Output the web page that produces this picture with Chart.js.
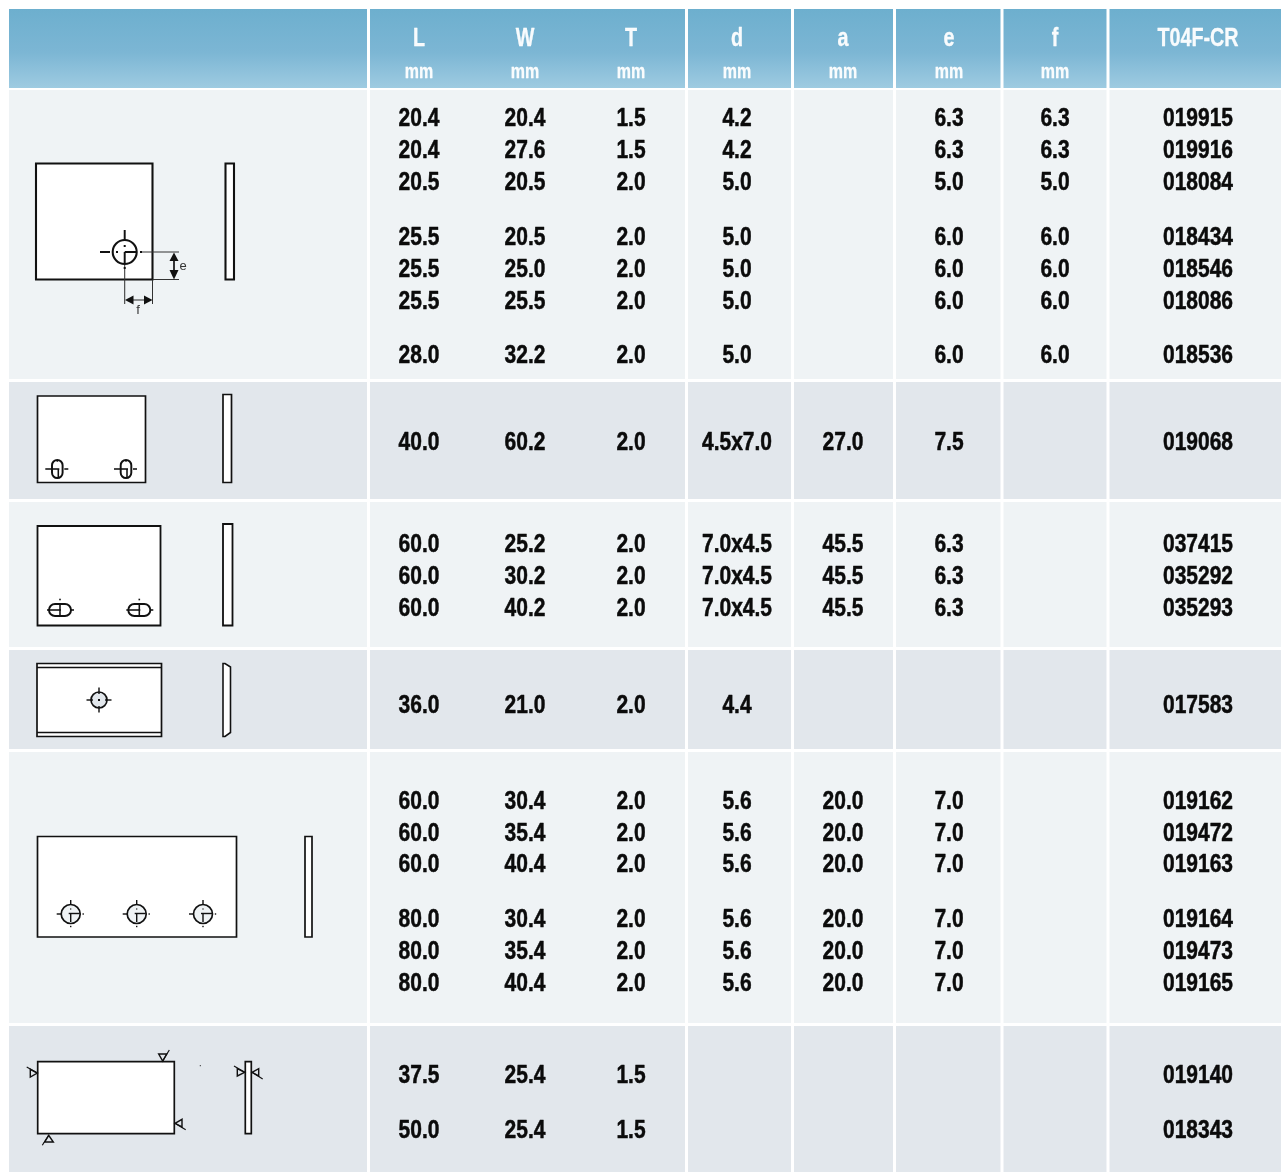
<!DOCTYPE html>
<html>
<head>
<meta charset="utf-8">
<title>T04F-CR</title>
<script src="https://cdn.jsdelivr.net/npm/chart.js@4"></script>
<style>
  html, body { margin:0; padding:0; background:#fff; }
  canvas { display:block; }
</style>
</head>
<body>
<canvas id="table" width="1281" height="1173"></canvas>
<script>
// table content
const headers = ['L','W','T','d','a','e','f','T04F-CR'];
const units   = ['mm','mm','mm','mm','mm','mm','mm',''];

const valL = ['20.4','20.4','20.5','25.5','25.5','25.5','28.0','40.0','60.0','60.0','60.0','36.0','60.0','60.0','60.0','80.0','80.0','80.0','37.5','50.0'];
const valW = ['20.4','27.6','20.5','20.5','25.0','25.5','32.2','60.2','25.2','30.2','40.2','21.0','30.4','35.4','40.4','30.4','35.4','40.4','25.4','25.4'];
const valT = ['1.5','1.5','2.0','2.0','2.0','2.0','2.0','2.0','2.0','2.0','2.0','2.0','2.0','2.0','2.0','2.0','2.0','2.0','1.5','1.5'];
const valD = ['4.2','4.2','5.0','5.0','5.0','5.0','5.0','4.5x7.0','7.0x4.5','7.0x4.5','7.0x4.5','4.4','5.6','5.6','5.6','5.6','5.6','5.6','',''];
const valA = ['','','','','','','','27.0','45.5','45.5','45.5','','20.0','20.0','20.0','20.0','20.0','20.0','',''];
const valE = ['6.3','6.3','5.0','6.0','6.0','6.0','6.0','7.5','6.3','6.3','6.3','','7.0','7.0','7.0','7.0','7.0','7.0','',''];
const valF = ['6.3','6.3','5.0','6.0','6.0','6.0','6.0','','','','','','','','','','','','',''];
const codes = ['019915','019916','018084','018434','018546','018086','018536','019068','037415','035292','035293','017583','019162','019472','019163','019164','019473','019165','019140','018343'];
const columns = [valL, valW, valT, valD, valA, valE, valF, codes];

// layout, in page pixels (the scales run 0-1281 / 0-1173)
const colX = [419,525,631,737,843,949,1055,1198];
const rowY = [117,149,181,236,268,300,354,441,543,575,607,704,800,832,863,918,950,982,1074,1129];
const bandTop = [90,382,502,650,752,1026];
const bandBottom = [379,499,647,749,1023,1172];
const bandFill = ['#eff3f5','#e2e7ec','#eff3f5','#e2e7ec','#eff3f5','#e2e7ec'];
const separators = [368.5,686.5,792.5,894.5,1002,1108];

const FONT = '"Liberation Sans",Arial,sans-serif';
const NARROW = 0.84;   // the original face is condensed, squeeze the bold sans to fit
const LW = 1.3;        // line weight of the sketches

// === helpers around the scales
function drawer(chart){
  const c = chart.ctx, sx = chart.scales.x, sy = chart.scales.y;
  const X = v => sx.getPixelForValue(v), Y = v => sy.getPixelForValue(v);
  return {
    c, X, Y,
    box(x0,y0,x1,y1,fill,w){
      c.beginPath(); c.rect(X(x0),Y(y0),X(x1)-X(x0),Y(y1)-Y(y0));
      if(fill){ c.fillStyle = fill; c.fill(); }
      c.lineWidth = (w || 1.5)*LW; c.strokeStyle = '#111'; c.stroke();
    },
    line(pts,w,col){
      c.beginPath();
      pts.forEach((p,i)=> i ? c.lineTo(X(p[0]),Y(p[1])) : c.moveTo(X(p[0]),Y(p[1])));
      c.lineWidth = (w || 1)*LW; c.strokeStyle = col || '#111'; c.stroke();
    },
    poly(pts,fill,w){
      c.beginPath();
      pts.forEach((p,i)=> i ? c.lineTo(X(p[0]),Y(p[1])) : c.moveTo(X(p[0]),Y(p[1])));
      c.closePath();
      if(fill){ c.fillStyle = fill; c.fill(); }
      if(w){ c.lineWidth = w*LW; c.strokeStyle = '#111'; c.stroke(); }
    },
    ring(x,y,r,fill,w){
      c.beginPath(); c.arc(X(x),Y(y),r,0,Math.PI*2);
      if(fill){ c.fillStyle = fill; c.fill(); }
      c.lineWidth = (w || 1.5)*LW; c.strokeStyle = '#111'; c.stroke();
    },
    dot(x,y,s){ c.fillStyle = '#111'; c.fillRect(X(x)-s/2,Y(y)-s/2,s,s); },
    label(t,x,y,size){
      c.fillStyle = '#333'; c.font = size+'px '+FONT;
      c.textAlign = 'center'; c.textBaseline = 'middle'; c.fillText(t,X(x),Y(y));
    }
  };
}

// vertical or horizontal slot outline
function slot(d,x,y,w,h,fill){
  const c = d.c, r = Math.min(w,h)/2;
  c.beginPath(); c.roundRect(d.X(x-w/2),d.Y(y-h/2),w,h,r);
  c.fillStyle = fill; c.fill();
  c.lineWidth = 1.5*LW; c.strokeStyle = '#111'; c.stroke();
}

function weld(d,tri,tail){
  d.poly(tri,'#e2e7ec',1.1);
  d.line(tail,0.9);
}

// squeezed text, centred on x
function narrowText(c,t,x,y,k){
  c.save();
  c.translate(x,y);
  c.scale(k,1);
  c.fillText(t,0,0);
  c.strokeText(t,0,0);
  c.restore();
}

// === backgrounds, header band, separators
const backgroundPlugin = {
  id:'background',
  beforeDatasetsDraw(chart){
    const d = drawer(chart), c = d.c;
    const g = c.createLinearGradient(0,d.Y(9),0,d.Y(88));
    g.addColorStop(0,'#6dafce'); g.addColorStop(0.55,'#7cb6d4'); g.addColorStop(1,'#9ecbe1');
    c.fillStyle = g;
    c.fillRect(d.X(9),d.Y(9),d.X(1281)-d.X(9),d.Y(88)-d.Y(9));
    bandTop.forEach((t,i)=>{
      c.fillStyle = bandFill[i];
      c.fillRect(d.X(9),d.Y(t),d.X(1281)-d.X(9),d.Y(bandBottom[i])-d.Y(t));
    });
    c.fillStyle = '#fff';
    separators.forEach(x=> c.fillRect(d.X(x)-1.5,d.Y(9),3,d.Y(1173)-d.Y(9)));
  }
};

// === part sketches in the first column
const sketchPlugin = {
  id:'sketches',
  afterDatasetsDraw(chart){
    const d = drawer(chart);

    // square plate with e / f dimensions
    d.box(36,163.5,152.5,279.5,'#fff',1.6);
    d.box(225.5,163.5,234,279.5,'#fff',1.6);
    d.line([[141,252],[179,252]],0.8,'#333');
    d.line([[152.5,279.5],[179,279.5]],0.8,'#333');
    d.line([[124.7,265],[124.7,304]],0.8,'#333');
    d.line([[152.5,280],[152.5,304]],0.8,'#333');
    d.ring(124.7,252,12,null,1.6);
    d.line([[100,252],[110,252]],1.5);
    d.line([[124.7,230],[124.7,240]],1.5);
    d.line([[124.7,252],[137,252]],1.5);
    d.line([[124.7,252],[124.7,264]],1.5);
    d.dot(124.7,246,2); d.dot(117,252,2);
    d.dot(141,252,2); d.dot(124.7,268,2);
    d.line([[174,258],[174,274]],1.3);
    d.poly([[174,252.5],[169.5,261],[178.5,261]],'#111');
    d.poly([[174,279.5],[169.5,270],[178.5,270]],'#111');
    d.line([[130,300],[148,300]],0.8,'#333');
    d.poly([[125,300],[133.5,295.5],[133.5,304.5]],'#111');
    d.poly([[152.5,300],[144,295.5],[144,304.5]],'#111');
    d.label('e',183,266,13);
    d.label('f',138,310,13);

    // two vertical slots
    d.box(37.5,396,145.5,482.5,'#fff',1.3);
    d.box(223,394.5,231.5,482.5,'#fff',1.3);
    [57.3,126].forEach(x=>{
      slot(d,x,469,10.6,18,'#fff');
      d.line([[x-12,469],[x+2,469]],1.2);
      d.line([[x+1,469],[x+1,477]],1.2);
      d.line([[x+7,469],[x+11,469]],1.2);
      d.dot(x,461,1.5);
    });

    // two horizontal slots
    d.box(37.5,526,160.5,625.5,'#fff',1.4);
    d.box(223,524,232.5,625.5,'#fff',1.4);
    [60,139.3].forEach(x=>{
      slot(d,x,610,22,12,'#fff');
      d.line([[x-13,610],[x+1,610]],1.2);
      d.line([[x,605],[x,616]],1.2);
      d.line([[x+11,610],[x+14,610]],1.2);
      d.dot(x,599.5,1.6);
    });

    // chamfered plate with centre hole
    d.box(37,663.5,161.5,736.5,'#fff',1.3);
    d.line([[37,667.5],[161.5,667.5]],1);
    d.line([[37,732.5],[161.5,732.5]],1);
    d.poly([[223,663.5],[225,663.5],[230.5,667],[230.5,732.5],[225,736.5],[223,736.5]],'#fff',1.2);
    d.ring(99,700,8,'#e2e7ec',1.3);
    d.dot(99,700,2);
    d.line([[86.5,700],[93,700]],1.1); d.line([[105,700],[111.5,700]],1.1);
    d.line([[99,687.5],[99,694]],1.1); d.line([[99,706],[99,712.5]],1.1);

    // three holes
    d.box(37.5,836.5,236.5,937,'#fff',1.3);
    d.box(305,836.5,312,937,'#fff',1.3);
    [70.7,136.7,203].forEach(x=>{
      d.ring(x,914,9.5,'#eff3f5',1.3);
      d.line([[x-14,914],[x-9,914]],1.1);
      d.line([[x,900],[x,905]],1.1);
      d.line([[x-2,913.5],[x+9,913.5]],1.1);
      d.line([[x,913.5],[x,922]],1.1);
      d.dot(x+12.5,914,1.4); d.dot(x,926.5,1.4); d.dot(x,909,1.2);
    });

    // plain plate with weld marks
    d.box(37.7,1061.7,174.3,1133.7,'#fff',1.3);
    d.box(245.3,1061.7,251.3,1133.7,'#fff',1.3);
    weld(d,[[30.3,1069.3],[30.3,1077],[37.3,1073]],[[26.7,1067],[37.3,1073]]);
    weld(d,[[158.7,1054],[166.7,1054],[162.7,1061]],[[162.7,1061],[169.3,1050]]);
    weld(d,[[175,1123.3],[182,1119.3],[182,1127]],[[175,1123.3],[185.7,1129.7]]);
    weld(d,[[48.7,1135.3],[44.7,1142],[53.3,1142]],[[48.7,1135.3],[42.3,1145.3]]);
    weld(d,[[237.3,1068.7],[237.3,1076],[244.7,1072.3]],[[234,1066],[244.7,1072.3]]);
    weld(d,[[252,1072.3],[258.7,1068.7],[258.7,1076]],[[252,1072.3],[262.7,1079]]);
    d.dot(200.3,1065.7,1);
  }
};

// === header and cell text, placed on the points of each column dataset
const textPlugin = {
  id:'cellText',
  afterDatasetsDraw(chart){
    const c = chart.ctx;
    c.save();
    c.textAlign = 'center';
    c.textBaseline = 'alphabetic';
    c.lineJoin = 'round';
    c.fillStyle = c.strokeStyle = '#0b0b0b';
    c.lineWidth = 0.5;
    c.font = 'bold 25px ' + FONT;
    chart.data.datasets.forEach((ds,i)=>{
      chart.getDatasetMeta(i).data.forEach((pt,j)=>{
        if(ds.cells[j]) narrowText(c, ds.cells[j], pt.x, pt.y + 8.5, NARROW);
      });
    });
    const sx = chart.scales.x, sy = chart.scales.y;
    c.fillStyle = c.strokeStyle = 'rgba(255,255,255,0.95)';
    c.lineWidth = 0.3;
    headers.forEach((h,i)=>{
      c.font = 'bold 25px ' + FONT;
      narrowText(c, h, sx.getPixelForValue(colX[i]), sy.getPixelForValue(46), 0.79);
      if(units[i]){
        c.font = 'bold 20px ' + FONT;
        narrowText(c, units[i], sx.getPixelForValue(colX[i]), sy.getPixelForValue(78), 0.8);
      }
    });
    c.restore();
  }
};

new Chart(document.getElementById('table'), {
  type:'scatter',
  data:{
    datasets: columns.map((vals,i)=>({
      label: headers[i],
      cells: vals,
      data: rowY.map(y=>({ x: colX[i], y: y })),
      pointRadius: 0,
      pointHoverRadius: 0
    }))
  },
  options:{
    responsive:false,
    animation:false,
    layout:{ padding:0 },
    plugins:{ legend:{ display:false }, tooltip:{ enabled:false } },
    scales:{
      x:{ type:'linear', min:0, max:1281, display:false },
      y:{ type:'linear', min:0, max:1173, reverse:true, display:false }
    }
  },
  plugins:[backgroundPlugin, sketchPlugin, textPlugin]
});
</script>
</body>
</html>
